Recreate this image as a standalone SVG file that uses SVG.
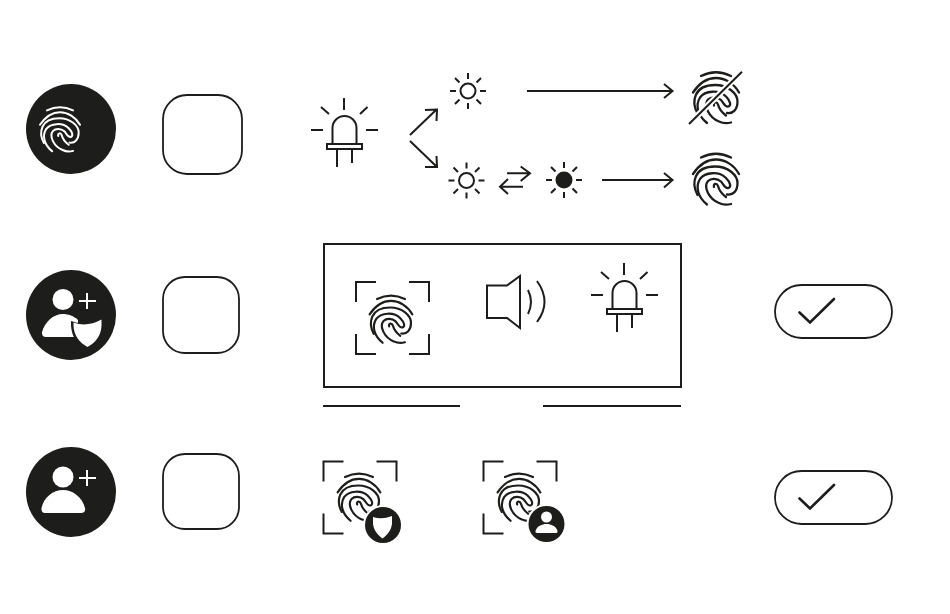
<svg xmlns="http://www.w3.org/2000/svg" width="950" height="614" viewBox="0 0 950 614">
<style>
.l{fill:none;stroke:#1d1d1b;stroke-width:2;stroke-linecap:butt;stroke-linejoin:miter}
.d{fill:#1d1d1b}
.w{fill:#fff}
.box{fill:#fff;stroke:#1d1d1b;stroke-width:1.8}
.fp path{fill:none;stroke-width:2.300;stroke-linecap:round}
</style>
<defs>
<g id="fp" class="fp">
<path d="M-15,-22.500 Q0,-30 15,-22.500"/>
<path d="M-23,-6 C-17,-15 -9,-20.500 0,-20.500 C9,-20.500 18,-15 23,-6"/>
<path d="M-18.500,15 C-25,3 -22,-13.500 -1,-13.500 C12,-13.500 21.500,-5 21.500,3 C21.500,11 17,15.500 11,14.500"/>
<path d="M-9,24.500 C-18,17 -21,7 -16,-1 C-11,-8 3,-9 10,-2 C15,3 15,7 12.500,8 C9,9 7.500,4 5,1.500 C1,-2 -5,-2 -8,1 C-13,7 -7,19 3,23 C7,25 11,25 15,24"/>
<path d="M-2,7 C-3,3 1,3 2,6 C3,10 6,14 10,17"/>
</g>
<g id="led" class="l">
<path d="M332.500,144 V128 A12,12 0 0 1 356.500,128 V144"/>
<rect x="327" y="144" width="35" height="5"/>
<path d="M337,149 V167 M352,149 V163 M344,98 V110 M311,130 H323 M366,130 H378 M321,107 L329,114 M367.500,107 L360,114"/>
</g>
<g id="rays" class="l">
<path d="M0,-18 V-12 M0,12 V18 M-18,0 H-12 M12,0 H18 M-13,-13 L-8.500,-8.500 M13,-13 L8.500,-8.500 M-13,13 L-8.500,8.500 M13,13 L8.500,8.500"/>
</g>
<g id="frame" class="l">
<path d="M0,20 V0 H20 M53,0 H73 V20 M0,52 V72 H20 M53,72 H73 V52"/>
</g>
<g id="check"><rect class="box" x="775" y="285" width="117" height="53" rx="26.500"/><path class="l" style="stroke-width:2.600;stroke-linecap:round" d="M799.500,312.500 L810,322.500 L834,299"/></g>
</defs>

<g id="node-fingerprint-badge">
<circle class="d" cx="71" cy="129" r="45"/>
<use href="#fp" transform="translate(60,130) scale(.87)" stroke="#fff"/>
</g>
<g id="node-box-1"><rect class="box" x="163" y="95" width="79" height="79" rx="24"/></g>
<g id="node-led-1"><use href="#led"/></g>
<g id="node-sun-1"><circle class="l" cx="468" cy="91" r="7.500"/><use href="#rays" x="468" y="91"/></g>
<g id="node-sun-2"><circle class="l" cx="466.500" cy="180.500" r="7.500"/><use href="#rays" x="466.500" y="180.500"/></g>
<g id="node-sun-3"><circle class="d" cx="564" cy="180" r="8.500"/><use href="#rays" x="564" y="180"/></g>
<g id="node-fingerprint-off">
<use href="#fp" transform="translate(716,98.500)" stroke="#1d1d1b"/>
<path d="M689,124 L742,71.700" fill="none" stroke="#fff" stroke-width="6"/>
<path class="l" d="M689,124 L742,71.700"/>
</g>
<g id="node-fingerprint-on"><use href="#fp" transform="translate(716,180)" stroke="#1d1d1b"/></g>

<g id="node-user-shield-badge">
<circle class="d" cx="71" cy="315" r="45"/>
<circle class="w" cx="63" cy="299.500" r="10.500"/>
<path class="w" d="M46,337 H78 L78,320 C74,316 68,314 63,314 C53,314 45,322 42,332 Q41.500,337 46,337Z"/>
<path d="M71,321 Q87,327 104,317 L104,326 C103,338 96,346 87.500,351 C78,346 72,338 71,326Z" class="d"/>
<path class="w" d="M73.500,322.500 Q87,327.500 101.500,319.500 V326 C101,336 95,343 87.500,347 C80,343 74,336 73.500,326Z"/>
<path d="M87,293 V309 M79,301 H96" fill="none" stroke="#fff" stroke-width="2"/>
</g>
<g id="node-box-2"><rect class="box" x="163" y="277" width="76" height="76" rx="22"/></g>
<g id="node-panel"><rect x="324" y="244" width="357" height="143" fill="none" stroke="#1d1d1b" stroke-width="2"/></g>
<g id="node-scan">
<use href="#frame" x="356" y="282"/>
<use href="#fp" transform="translate(391,320) scale(.93)" stroke="#1d1d1b"/>
</g>
<g id="node-speaker">
<path class="l" d="M487,285.500 H507 L520,276 V328 L507,318 H487Z"/>
<path class="l" d="M528,290 Q534,302 528,314 M537,281 Q552,302 537,322"/>
</g>
<g id="node-led-2"><use href="#led" x="280" y="165"/></g>
<g id="node-check-1"><use href="#check"/></g>

<g id="node-user-badge">
<circle class="d" cx="71" cy="492" r="45"/>
<circle class="w" cx="63" cy="477" r="10.500"/>
<path class="w" d="M45,513 H81 Q86,513 85,508 C82,497 73,490 63,490 C53,490 44,497 41.500,508 Q41,513 45,513Z"/>
<path d="M87,470 V486 M79,478 H96" fill="none" stroke="#fff" stroke-width="2"/>
</g>
<g id="node-box-3"><rect class="box" x="163" y="454" width="76" height="75" rx="22"/></g>
<g id="node-scan-shield">
<use href="#frame" x="323.500" y="461.500"/>
<use href="#fp" transform="translate(359,498) scale(.93)" stroke="#1d1d1b"/>
<circle class="w" cx="383" cy="525" r="20"/>
<circle class="d" cx="383" cy="525" r="18"/>
<path class="w" d="M373,517 Q382,520 392,516 V524 C391,531 387,535 382.500,538.500 C378,535 374,531 373,524Z"/>
</g>
<g id="node-scan-user">
<use href="#frame" x="483.500" y="461.500"/>
<use href="#fp" transform="translate(519,498) scale(.93)" stroke="#1d1d1b"/>
<circle class="w" cx="546.500" cy="524" r="20"/>
<circle class="d" cx="546.500" cy="524" r="18"/>
<circle class="w" cx="546.500" cy="517" r="5.500"/>
<path class="w" d="M537,533 Q535,533 535.500,531 C537,526 542,524 546.500,524 C551,524 556,526 557.500,531 Q558,533 556,533Z"/>
</g>
<g id="node-check-2"><use href="#check" y="186"/></g>

<g id="connectors" class="l">
<path d="M410,135 L436,110 M425,110 L437,109.500 L436.500,121"/>
<path d="M410,141 L436.500,166.500 M425,167 L437,167 L436.500,156"/>
<path d="M527,91 H672 M664,84 L672.500,91 L664,98"/>
<path d="M602,180 H672 M664,173 L672.500,180 L664,187.500"/>
<path d="M507,173.300 H530 M520.700,166.500 L530,173.300 L520.700,181"/>
<path d="M523,186.700 H500 M508,179 L500,186.700 L508,194"/>
<path d="M323,406 H460 M543,406 H681"/>
</g>
</svg>
